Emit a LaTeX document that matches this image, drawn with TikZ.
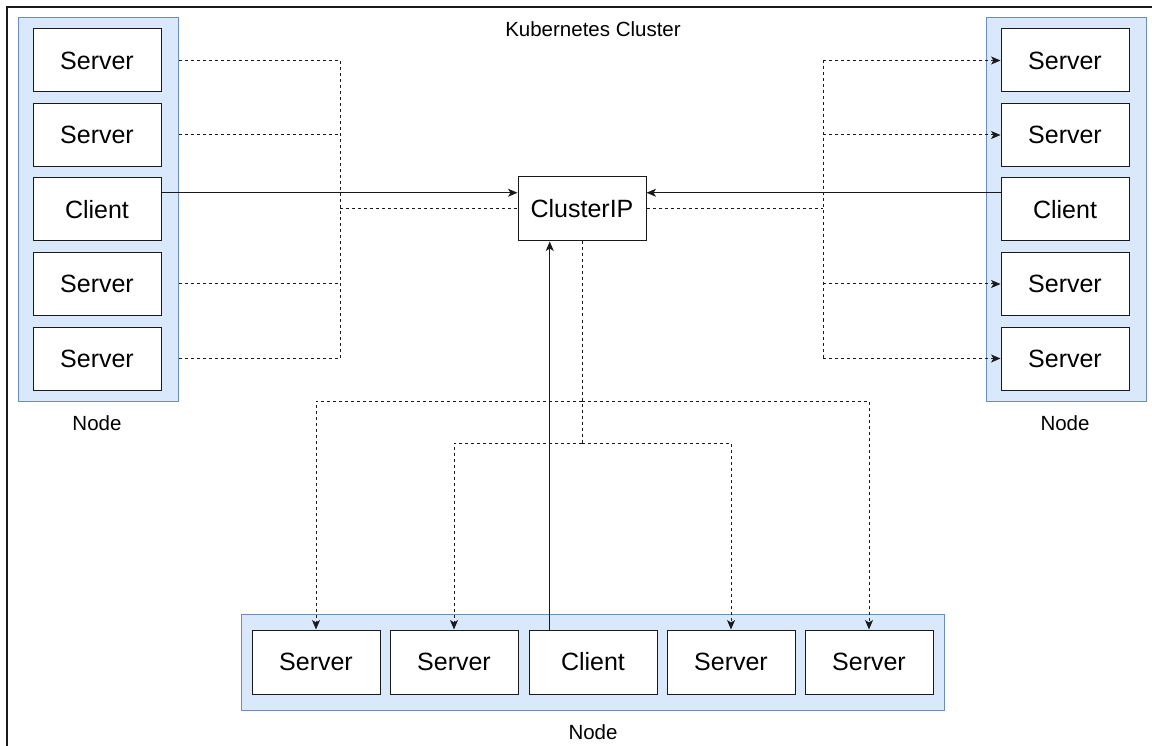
\documentclass[tikz,border=0pt]{standalone}
\usepackage{fontspec}
\setmainfont{Liberation Sans}
\usetikzlibrary{arrows.meta,calc}
\definecolor{nodefill}{HTML}{DAE8FC}
\definecolor{nodeline}{HTML}{6C8EBF}
\definecolor{ink}{HTML}{1A1A1A}

\begin{document}
\begin{tikzpicture}[x=1pt,y=-1pt,
  group/.style={draw=nodeline, fill=nodefill, line width=1pt, inner sep=0pt},
  pod/.style={draw=ink, fill=white, line width=1pt, minimum width=128pt,
    minimum height=63pt, inner sep=0pt, font=\fontsize{25}{30}\selectfont},
  caption/.style={font=\fontsize{20.5}{24}\selectfont, inner sep=0pt},
  dl/.style={draw=ink, line width=1pt, dash pattern=on 3pt off 3pt},
  sl/.style={draw=ink, line width=1pt},
  tip/.style={-{Stealth[length=9.5pt,width=8pt,inset=2.5pt]}}
]
\useasboundingbox (0,0) rectangle (1152,746);

% cluster frame
\draw[ink, line width=1.2pt] (1170,7) -- (7,7) -- (7,770);
\node[caption] (title) at (593,29) {Kubernetes Cluster};

% node groups
\node[group, minimum width=160pt, minimum height=383pt] (lnode) at (98,209.5) {};
\node[group, minimum width=160pt, minimum height=383pt] (rnode) at (1066,209.5) {};
\node[group, minimum width=703pt, minimum height=96pt] (bnode) at (592.5,662) {};
\node[caption] (lnodelbl) at (97,423) {Node};
\node[caption] (rnodelbl) at (1065,423) {Node};
\node[caption] (bnodelbl) at (593,732) {Node};

% left node pods
\node[pod] (ls1) at (97,60.5) {Server};
\node[pod] (ls2) at (97,135) {Server};
\node[pod] (lc)  at (97,209.5) {Client};
\node[pod] (ls4) at (97,284) {Server};
\node[pod] (ls5) at (97,358.5) {Server};

% right node pods
\node[pod] (rs1) at (1065,60.5) {Server};
\node[pod] (rs2) at (1065,135) {Server};
\node[pod] (rc)  at (1065,209.5) {Client};
\node[pod] (rs4) at (1065,284) {Server};
\node[pod] (rs5) at (1065,358.5) {Server};

% bottom node pods
\node[pod, minimum height=64pt] (bs1) at (316,662) {Server};
\node[pod, minimum height=64pt] (bs2) at (454,662) {Server};
\node[pod, minimum height=64pt] (bc)  at (593,662) {Client};
\node[pod, minimum height=64pt] (bs4) at (731,662) {Server};
\node[pod, minimum height=64pt] (bs5) at (869,662) {Server};

% service
\node[pod, minimum height=64pt] (cip) at (582,209) {ClusterIP};

% helper points
\coordinate (ljx) at (340,0);
\coordinate (rjx) at (823,0);
\coordinate (by1) at (0,401);
\coordinate (by2) at (0,443);
\coordinate (cipl) at ($(cip.north west)!0.25!(cip.south west)$);
\coordinate (cipr) at ($(cip.north east)!0.25!(cip.south east)$);
\coordinate (cipb) at ($(cip.south west)!0.25!(cip.south east)$);

% left servers reached through the service
\draw[dl] (lnode.east |- ls1) -| (ljx |- ls5) -- (lnode.east |- ls5);
\draw[dl] (lnode.east |- ls2) -- (ljx |- ls2);
\draw[dl] (lnode.east |- ls4) -- (ljx |- ls4);
\draw[dl] (ljx |- cip) -- (cip.west);

% right servers reached through the service
\draw[dl] (cip.east) -- (rjx |- cip);
\draw[dl] (rjx |- rs1) -- (rjx |- rs5);
\draw[dl,tip] (rjx |- rs1) -- (rs1.west);
\draw[dl,tip] (rjx |- rs2) -- (rs2.west);
\draw[dl,tip] (rjx |- rs4) -- (rs4.west);
\draw[dl,tip] (rjx |- rs5) -- (rs5.west);

% bottom servers reached through the service
\draw[dl] (cip.south) -- (cip.south |- by2);
\draw[dl,tip] (cip.south |- by2) -| (bs2.north);
\draw[dl,tip] (cip.south |- by2) -| (bs4.north);
\draw[dl,tip] (cip.south |- by1) -| (bs1.north);
\draw[dl,tip] (cip.south |- by1) -| (bs5.north);

% client requests to the service
\draw[sl,tip] (lc.east |- cipl) -- (cipl);
\draw[sl,tip] (rc.west |- cipr) -- (cipr);
\draw[sl,tip] (bc.north -| cipb) -- (cipb);
\end{tikzpicture}
\end{document}
